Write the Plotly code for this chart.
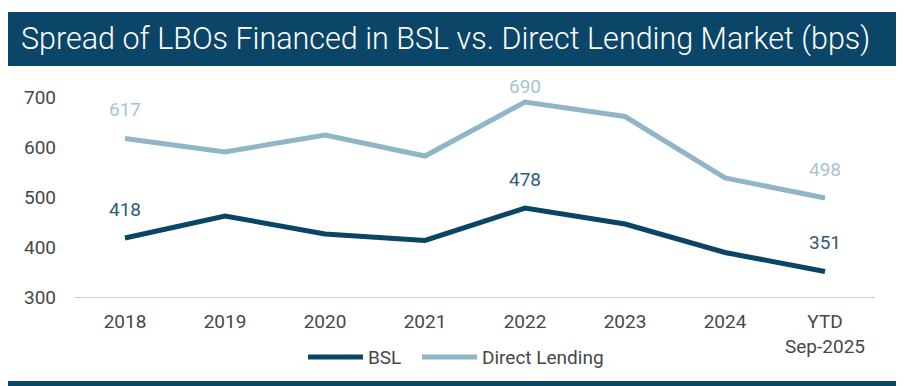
import plotly.graph_objects as go

categories = ["2018", "2019", "2020", "2021", "2022", "2023", "2024", "YTD<br>Sep-2025"]
bsl = [418, 462, 426, 413, 478, 446, 389, 351]
direct_lending = [617, 590, 624, 582, 690, 661, 538, 498]
labeled_idx = [0, 4, 7]
title_text = "Spread of LBOs Financed in BSL vs. Direct Lending Market (bps)"

NAVY = "#0a4466"
LIGHT = "#8fb5c7"
BANNER = "#0b4668"

fig = go.Figure()
fig.add_trace(go.Scatter(x=categories, y=bsl, mode="lines", name="BSL",
                         line=dict(color=NAVY, width=5), legend="legend"))
fig.add_trace(go.Scatter(x=categories, y=direct_lending, mode="lines", name="Direct Lending",
                         line=dict(color=LIGHT, width=5), legend="legend2"))

for i in labeled_idx:
    fig.add_annotation(x=i, y=bsl[i], text=str(bsl[i]), showarrow=False,
                       yshift=29, font=dict(color="#2d5b78", size=19, family="Roboto"))
    fig.add_annotation(x=i, y=direct_lending[i], text=str(direct_lending[i]),
                       showarrow=False, yshift=29 if i != 4 else 16,
                       font=dict(color="#a7c4d2", size=19, family="Roboto"))

# title banner
fig.add_shape(type="rect", xref="paper", yref="paper", x0=-0.0875, x1=1.03125,
              y0=1.10, y1=1.357, fillcolor=BANNER, line=dict(width=0), layer="below")
fig.add_annotation(xref="paper", yref="paper", x=0.4625, y=1.228, text=title_text,
                   showarrow=False, xanchor="center", yanchor="middle",
                   font=dict(color="white", size=30.5, family="Roboto", weight=300))
# bottom bar
fig.add_shape(type="rect", xref="paper", yref="paper", x0=-0.0875, x1=1.03125,
              y0=-0.40, y1=-0.43, fillcolor=BANNER, line=dict(width=0))

legend_common = dict(orientation="h", xanchor="left", y=-0.286, yanchor="middle",
                     font=dict(size=19, color="#474747"), itemwidth=55,
                     bgcolor="rgba(0,0,0,0)")

fig.update_layout(
    width=896, height=378,
    margin=dict(l=67, r=29, t=79, b=89, autoexpand=False),
    paper_bgcolor="white", plot_bgcolor="white",
    font=dict(family="Roboto", color="#474747", size=19),
    showlegend=True,
    legend=dict(x=0.285, **legend_common),
    legend2=dict(x=0.4275, **legend_common),
    xaxis=dict(type="category", range=[-0.5, 7.5], showgrid=False, showline=True,
               linecolor="#d0d0d0", linewidth=1, ticks="", tickfont=dict(size=19),
               automargin=False, ticklabelstandoff=7),
    yaxis=dict(range=[300, 720], tickvals=[300, 400, 500, 600, 700], showgrid=False,
               zeroline=False, showline=False, ticks="", ticklabelstandoff=18,
               tickfont=dict(size=19), automargin=False),
)
fig.write_html("out.html")
